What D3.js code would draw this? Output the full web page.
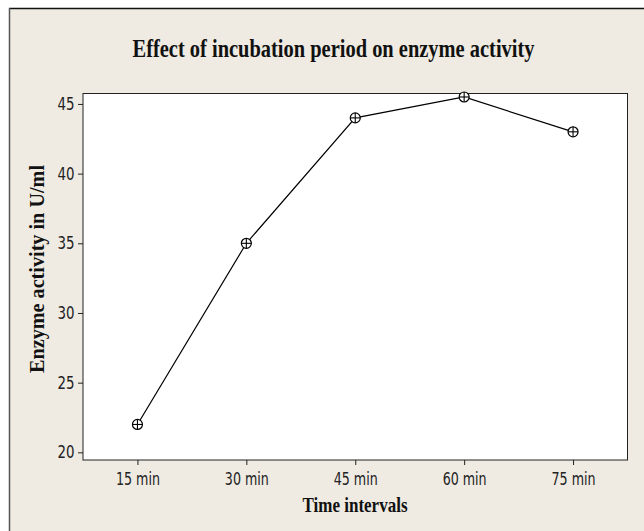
<!DOCTYPE html>
<html><head><meta charset="utf-8">
<script src="https://cdn.jsdelivr.net/npm/d3@7"></script>
<style>body{margin:0;background:#fff}svg{display:block}</style>
</head><body>
<script>
const categories = ["15 min","30 min","45 min","60 min","75 min"];
const values = [22, 35, 44, 45.5, 43];
const yTicks = [20, 25, 30, 35, 40, 45];

const W = 644, H = 531;
const svg = d3.select("body").append("svg").attr("width", W).attr("height", H);
svg.append("rect").attr("x", 9).attr("y", 8).attr("width", W).attr("height", H).attr("fill", "#efebe2");
svg.append("line").attr("x1", 9).attr("x2", W).attr("y1", 8.5).attr("y2", 8.5).attr("stroke", "#111").attr("stroke-width", 1.5);
svg.append("line").attr("x1", 9.5).attr("x2", 9.5).attr("y1", 8).attr("y2", H).attr("stroke", "#555").attr("stroke-width", 1.5);

const L = 83, R = 627.5, T = 93.5, B = 460;
const x = d3.scalePoint().domain(categories).range([L, R]).padding(0.5);
const y = d3.scaleLinear().domain([19.45, 45.75]).range([B, T]);

svg.append("rect").attr("x", L).attr("y", T).attr("width", R - L).attr("height", B - T)
  .attr("fill", "#fff").attr("stroke", "#222").attr("stroke-width", 1);

const fontTick = "'DejaVu Sans Condensed','DejaVu Sans',sans-serif";
const xa = svg.append("g").attr("transform", `translate(0,${B})`)
  .call(d3.axisBottom(x).tickSize(5).tickSizeOuter(0));
xa.select(".domain").remove();
xa.selectAll("text").attr("y", 25).attr("dy", 0)
  .attr("font-family", fontTick).attr("font-size", 17).attr("fill", "#222")
  .attr("textLength", 44).attr("lengthAdjust", "spacingAndGlyphs");
xa.selectAll("line").attr("stroke", "#222");

const ya = svg.append("g").attr("transform", `translate(${L},0)`)
  .call(d3.axisLeft(y).tickValues(yTicks).tickSize(5).tickSizeOuter(0).tickPadding(3.5));
ya.select(".domain").remove();
ya.selectAll("text").attr("font-family", fontTick).attr("font-size", 17).attr("fill", "#222")
  .attr("textLength", 17).attr("lengthAdjust", "spacingAndGlyphs");
ya.selectAll("line").attr("stroke", "#222");

const data = categories.map((c, i) => ({c, v: values[i]}));
svg.append("path").datum(data)
  .attr("d", d3.line().x(d => x(d.c)).y(d => y(d.v)))
  .attr("fill", "none").attr("stroke", "#000").attr("stroke-width", 1.2);

const m = svg.selectAll(".m").data(data).enter().append("g")
  .attr("transform", d => `translate(${x(d.c)},${y(d.v)})`);
m.append("circle").attr("r", 5).attr("fill", "#fff").attr("stroke", "#000").attr("stroke-width", 1.2);
m.append("line").attr("x1", -5).attr("x2", 5).attr("stroke", "#000").attr("stroke-width", 1.1);
m.append("line").attr("y1", -5).attr("y2", 5).attr("stroke", "#000").attr("stroke-width", 1.1);

const serif = "'Liberation Serif','Times New Roman',serif";
svg.append("text").attr("x", 333.5).attr("y", 57).attr("text-anchor", "middle")
  .attr("font-family", serif).attr("font-weight", "bold").attr("font-size", 25).attr("fill", "#111")
  .attr("textLength", 402).attr("lengthAdjust", "spacingAndGlyphs")
  .text("Effect of incubation period on enzyme activity");
svg.append("text").attr("x", 355).attr("y", 512).attr("text-anchor", "middle")
  .attr("font-family", serif).attr("font-weight", "bold").attr("font-size", 21).attr("fill", "#111")
  .attr("textLength", 105).attr("lengthAdjust", "spacingAndGlyphs")
  .text("Time intervals");
svg.append("text").attr("transform", "translate(44,269) rotate(-90)").attr("text-anchor", "middle")
  .attr("font-family", serif).attr("font-weight", "bold").attr("font-size", 20).attr("fill", "#111")
  .attr("textLength", 208).attr("lengthAdjust", "spacingAndGlyphs")
  .text("Enzyme activity in U/ml");
</script>
</body></html>
